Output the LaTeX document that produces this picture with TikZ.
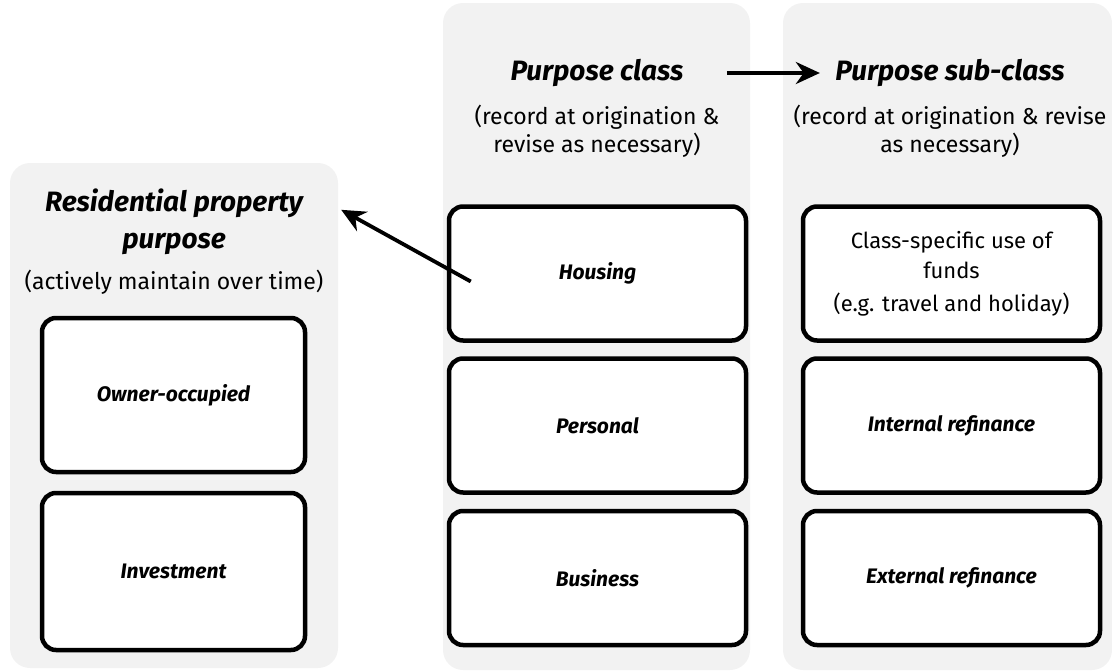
\documentclass[tikz,border=0pt]{standalone}
\usepackage{fontspec}
\setmainfont{Fira Sans}
\usetikzlibrary{arrows.meta,calc}
\definecolor{panelgray}{HTML}{F2F2F2}
\newcommand{\headfont}{\fontsize{28}{37}\selectfont\bfseries\itshape}
\newcommand{\notefont}{\fontsize{23}{28}\selectfont}
\newcommand{\boxfont}{\fontsize{22}{30}\selectfont}
\newcommand{\boxlabel}[1]{{\fontsize{21}{26}\selectfont\bfseries\itshape #1}}
\tikzset{>=Stealth}
\tikzset{panel/.style = {shape=rectangle,rounded corners=20pt,fill=panelgray,draw=none}}
\tikzset{pbox/.style = {shape=rectangle,rounded corners=14pt,draw,line width=4.5pt,fill=white,
    minimum width=297pt,minimum height=134pt,font=\boxfont,align=center}}
\tikzset{head/.style = {font=\headfont,align=center}}
\tikzset{note/.style = {font=\notefont,align=center}}
\tikzset{edge/.style = {->,line width=3.8pt,>={Stealth[length=24pt,width=22pt]}}}

\begin{document}
\begin{tikzpicture}[x=1pt,y=-1pt]
            \useasboundingbox (0,0) rectangle (1112,672);

            % panels
            \node[panel,minimum width=328pt,minimum height=505pt] (lpanel) at (174,415.5) {};
            \node[panel,minimum width=307pt,minimum height=667pt] (mpanel) at (596.5,336.5) {};
            \node[panel,minimum width=329pt,minimum height=667pt] (rpanel) at (947.5,336.5) {};

            % headings
            \node[head] (lhead) at (174,221.5) {Residential property\\purpose};
            \node[note] (lnote) at (174,282) {(actively maintain over time)};
            \node[head] (mhead) at (597,73) {Purpose class};
            \node[note] (mnote) at (597,131) {(record at origination \&\\revise as necessary)};
            \node[head] (rhead) at (950,73) {Purpose sub-class};
            \node[note] (rnote) at (950,131) {(record at origination \& revise\\as necessary)};

            % boxes
            \node[pbox,minimum width=263pt,minimum height=154pt] (owner) at (173.5,395) {\boxlabel{Owner-occupied}};
            \node[pbox,minimum width=263pt,minimum height=157pt] (invest) at (173.5,571.5) {\boxlabel{Investment}};

            \node[pbox] (housing) at (597.5,273.5) {\boxlabel{Housing}};
            \node[pbox] (personal) at (597.5,425.5) {\boxlabel{Personal}};
            \node[pbox] (business) at (597.5,578) {\boxlabel{Business}};

            \node[pbox] (usefunds) at (951.5,273.5) {Class-specific use of\\funds\\[3pt](e.g. travel and holiday)};
            \node[pbox] (intref) at (951.5,425.5) {\boxlabel{Internal refinance}};
            \node[pbox] (extref) at (951.5,578) {\boxlabel{External refinance}};

            % arrows
            \coordinate (lend) at ($(lpanel.north east)+(3,47)$);
            \draw[edge] ([xshift=24pt,yshift=-8pt]housing.west) to (lend);
            \draw[edge,shorten <=40pt,shorten >=12pt] (mhead.east) to (rhead.west);
\end{tikzpicture}
\end{document}
